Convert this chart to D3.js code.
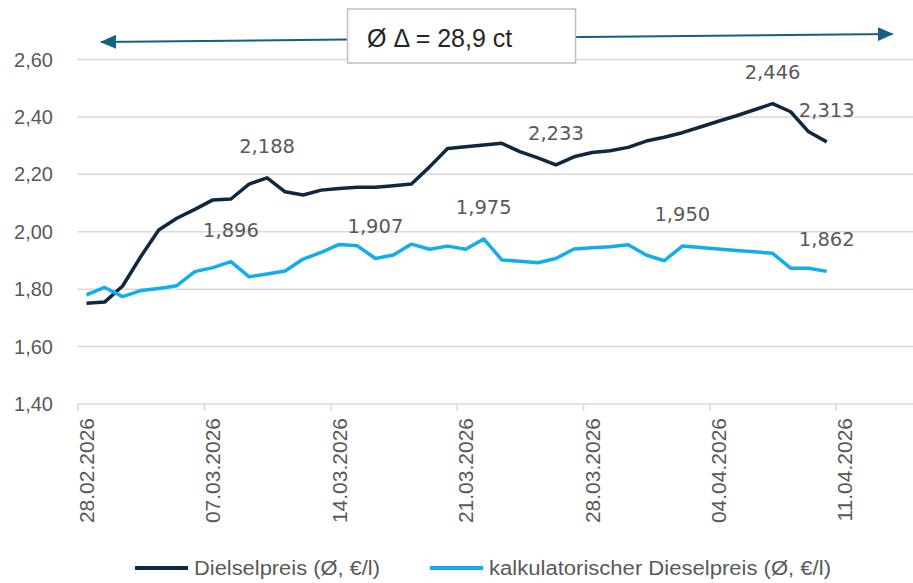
<!DOCTYPE html>
<html>
<head>
<meta charset="utf-8">
<script src="https://cdn.jsdelivr.net/npm/d3@7"></script>
<style>
  body { margin: 0; background: #fff; }
  svg { display: block; font-family: "Liberation Sans", Arial, sans-serif; }
</style>
</head>
<body>
<svg id="chart"></svg>
<script>
const svgWidth = 913;
const svgHeight = 583;

// daily values, 28.02.2026 - 10.04.2026
const days = [
  "2026-02-28", "2026-03-01", "2026-03-02", "2026-03-03", "2026-03-04", "2026-03-05", "2026-03-06",
  "2026-03-07", "2026-03-08", "2026-03-09", "2026-03-10", "2026-03-11", "2026-03-12", "2026-03-13",
  "2026-03-14", "2026-03-15", "2026-03-16", "2026-03-17", "2026-03-18", "2026-03-19", "2026-03-20",
  "2026-03-21", "2026-03-22", "2026-03-23", "2026-03-24", "2026-03-25", "2026-03-26", "2026-03-27",
  "2026-03-28", "2026-03-29", "2026-03-30", "2026-03-31", "2026-04-01", "2026-04-02", "2026-04-03",
  "2026-04-04", "2026-04-05", "2026-04-06", "2026-04-07", "2026-04-08", "2026-04-09", "2026-04-10"
];
const diesel = [
  1.751, 1.755, 1.811, 1.913, 2.006, 2.047, 2.078, 2.111, 2.114, 2.166, 2.188, 2.139, 2.128, 2.145,
  2.151, 2.155, 2.155, 2.160, 2.166, 2.226, 2.290, 2.296, 2.302, 2.308, 2.279, 2.257, 2.233, 2.261,
  2.276, 2.282, 2.294, 2.316, 2.329, 2.345, 2.365, 2.385, 2.404, 2.425, 2.446, 2.418, 2.348, 2.313
];
const kalkDiesel = [
  1.780, 1.806, 1.774, 1.795, 1.802, 1.812, 1.861, 1.875, 1.896, 1.843, 1.853, 1.863, 1.905, 1.928,
  1.956, 1.951, 1.907, 1.919, 1.957, 1.939, 1.950, 1.939, 1.975, 1.902, 1.897, 1.892, 1.907, 1.940,
  1.944, 1.948, 1.955, 1.919, 1.899, 1.950, 1.945, 1.940, 1.935, 1.930, 1.925, 1.873, 1.873, 1.862
];
// which points carry a value label
const dieselLabelIdx = [10, 26, 38, 41];
const kalkLabelIdx = [8, 16, 22, 33, 41];

const yTicks = [1.40, 1.60, 1.80, 2.00, 2.20, 2.40, 2.60];
const xTickDates = ["2026-02-28", "2026-03-07", "2026-03-14", "2026-03-21", "2026-03-28", "2026-04-04", "2026-04-11"];
const seriesNames = ["Dielselpreis (Ø, €/l)", "kalkulatorischer Dieselpreis (Ø, €/l)"];
const seriesColors = ["#0e2841", "#12aeec"];
const annotationText = "Ø Δ = 28,9 ct";

const parse = d3.utcParse("%Y-%m-%d");
const fmtTick = d3.utcFormat("%d.%m.%Y");
const comma = v => d3.format(".3f")(v).replace(".", ",");
const comma2 = v => d3.format(".2f")(v).replace(".", ",");

const svg = d3.select("#chart")
  .attr("width", svgWidth)
  .attr("height", svgHeight);

// date axis: each day is a band, ticks sit on band edges
const x = d3.scaleUtc()
  .domain([parse("2026-02-28"), d3.utcHour.offset(parse("2026-04-15"), 12)])
  .range([77.5, 917]);
const xMid = d => x(d3.utcHour.offset(d, 12));

const y = d3.scaleLinear()
  .domain([1.4, 2.6])
  .range([404, 59.5]);

// gridlines
svg.append("g")
  .selectAll("line")
  .data(yTicks)
  .join("line")
  .attr("x1", 77.5)
  .attr("x2", svgWidth)
  .attr("y1", d => y(d))
  .attr("y2", d => y(d))
  .attr("stroke", "#d9d9d9")
  .attr("stroke-width", 1.5);

// y labels
svg.append("g")
  .selectAll("text")
  .data(yTicks)
  .join("text")
  .attr("x", 53)
  .attr("y", d => y(d))
  .attr("dy", "0.35em")
  .attr("text-anchor", "end")
  .attr("font-size", 20)
  .attr("fill", "#595959")
  .text(d => comma2(d));

// x axis
const xAxis = d3.axisBottom(x)
  .tickValues(xTickDates.map(parse))
  .tickSize(7)
  .tickFormat("");

const gx = svg.append("g")
  .attr("transform", `translate(0,${y(1.4)})`)
  .call(xAxis);
gx.select(".domain").remove();
gx.selectAll(".tick line").attr("stroke", "#d9d9d9").attr("stroke-width", 1.5);

svg.append("g")
  .selectAll("text")
  .data(xTickDates.map(parse))
  .join("text")
  .attr("transform", d => `translate(${xMid(d)},${y(1.4) + 14}) rotate(-90)`)
  .attr("dy", "0.36em")
  .attr("text-anchor", "end")
  .attr("font-size", 21)
  .attr("fill", "#595959")
  .text(d => fmtTick(d));

// lines
const dates = days.map(parse);
const line = d3.line()
  .x((d, i) => xMid(dates[i]))
  .y(d => y(d));

[diesel, kalkDiesel].forEach((vals, k) => {
  svg.append("path")
    .datum(vals)
    .attr("fill", "none")
    .attr("stroke", seriesColors[k])
    .attr("stroke-width", 3.5)
    .attr("stroke-linejoin", "round")
    .attr("d", line);
});

// value labels
const labelData = [
  ...dieselLabelIdx.map(i => ({ i, v: diesel[i] })),
  ...kalkLabelIdx.map(i => ({ i, v: kalkDiesel[i] }))
];
svg.append("g")
  .selectAll("text")
  .data(labelData)
  .join("text")
  .attr("x", d => xMid(dates[d.i]))
  .attr("y", d => y(d.v) - 25)
  .attr("text-anchor", "middle")
  .attr("font-family", "DejaVu Sans, sans-serif")
  .attr("font-size", 19.5)
  .attr("fill", "#595959")
  .text(d => comma(d.v));

// double arrow with the average difference box
const arrowFrom = { day: 1.3, v: 2.661 };
const arrowTo = { day: 45.15, v: 2.689 };
const start = parse("2026-02-28");
const ax = day => x(new Date(start.getTime() + day * 864e5));

const defs = svg.append("defs");
defs.append("marker")
  .attr("id", "head")
  .attr("viewBox", "0 0 16 14")
  .attr("refX", 15)
  .attr("refY", 7)
  .attr("markerUnits", "userSpaceOnUse")
  .attr("markerWidth", 16)
  .attr("markerHeight", 14)
  .attr("orient", "auto-start-reverse")
  .append("path")
  .attr("d", "M0,0 L16,7 L0,14 Z")
  .attr("fill", "#156082");

svg.append("line")
  .attr("x1", ax(arrowFrom.day))
  .attr("y1", y(arrowFrom.v))
  .attr("x2", ax(arrowTo.day))
  .attr("y2", y(arrowTo.v))
  .attr("stroke", "#156082")
  .attr("stroke-width", 2)
  .attr("marker-start", "url(#head)")
  .attr("marker-end", "url(#head)");

svg.append("rect")
  .attr("x", 347.5)
  .attr("y", 9)
  .attr("width", 228)
  .attr("height", 54)
  .attr("fill", "#fff")
  .attr("stroke", "#bfbfbf")
  .attr("stroke-width", 1.5);

svg.append("text")
  .attr("x", 367)
  .attr("y", 47)
  .attr("font-size", 25)
  .attr("fill", "#262626")
  .text(annotationText);

// legend
const legendX = [135, 430];
const legendW = [186, 342];
const legend = svg.append("g")
  .selectAll("g")
  .data(seriesNames)
  .join("g")
  .attr("transform", (d, i) => `translate(${legendX[i]},568)`);

legend.append("line")
  .attr("x1", 0)
  .attr("x2", 53)
  .attr("stroke", (d, i) => seriesColors[i])
  .attr("stroke-width", 4);

legend.append("text")
  .attr("x", 59)
  .attr("dy", "0.35em")
  .attr("font-size", 20)
  .attr("fill", "#595959")
  .attr("textLength", (d, i) => legendW[i])
  .attr("lengthAdjust", "spacingAndGlyphs")
  .text(d => d);
</script>
</body>
</html>
